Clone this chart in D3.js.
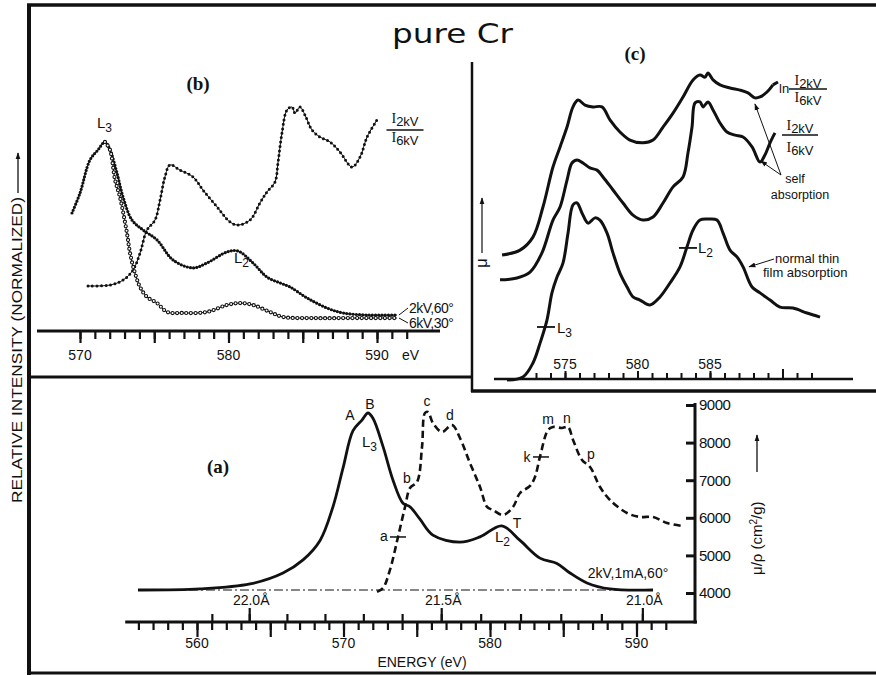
<!DOCTYPE html>
<html>
<head>
<meta charset="utf-8">
<script src="https://cdn.jsdelivr.net/npm/d3@7"></script>
<style>
  body { margin: 0; background: #fff; }
  text { font-family: "Liberation Sans", Arial, sans-serif; fill: #111; }
  .serif { font-family: "Liberation Serif", "DejaVu Serif", serif; font-weight: bold; }
</style>
</head>
<body>
<script>
// ---- panel (a): emission (solid, relative) and absorption (dashed, mu/rho) ----
const aSolidE = [555.97, 560.2, 563.62, 565.87, 567.24, 568.4, 569.28, 569.97, 570.65, 571.26, 571.67, 572.01, 572.7, 573.38, 574.06, 574.54, 575.22, 576.1, 577.95, 579.32, 580.8, 582.05, 583.41, 584.57, 585.46, 586.62, 588.19, 591.13];
const aSolidI = [0, 0.006, 0.034, 0.096, 0.17, 0.28, 0.47, 0.69, 0.9, 0.96, 1.0, 0.97, 0.81, 0.62, 0.49, 0.47, 0.4, 0.31, 0.27, 0.3, 0.362, 0.28, 0.18, 0.15, 0.096, 0.04, 0.006, 0];
const aDashE = [572.29, 572.7, 573.17, 573.72, 574.2, 574.54, 575.02, 575.36, 575.56, 575.77, 576.1, 576.72, 577.41, 577.95, 578.63, 579.32, 579.8, 580.2, 580.89, 581.57, 582.05, 582.73, 583.07, 583.41, 583.96, 584.3, 584.91, 585.32, 585.67, 586.28, 586.83, 587.51, 588.19, 589.35, 590.24, 591.13, 592.08, 593.17];
const aDashMu = [4030, 4133, 4612, 5490, 6288, 6793, 6953, 7884, 8788, 8815, 8522, 8283, 8469, 8123, 7458, 6820, 6288, 6208, 6075, 6288, 6660, 6846, 7086, 7618, 8336, 8416, 8389, 8416, 8070, 7538, 7352, 6820, 6474, 6128, 6022, 6022, 5862, 5782];
const aEvLabels = [560, 570, 580, 590];
const aWaveTicks = [22.1, 22.0, 21.9, 21.8, 21.7, 21.6, 21.5, 21.4, 21.3, 21.2, 21.1, 21.0];
const aWaveLabels = [22.0, 21.5, 21.0];
const aMuTicks = [4000, 5000, 6000, 7000, 8000, 9000];

// ---- panel (b): 2kV/60deg, 6kV/30deg and their ratio ----
const b2kvE = [569.46, 570.0, 570.67, 571.21, 571.68, 572.02, 572.49, 572.9, 573.5, 574.24, 575.19, 576.26, 577.61, 578.55, 579.9, 580.64, 581.65, 582.59, 583.47, 584.14, 585.29, 586.63, 587.71, 589.33, 591.35];
const b2kvI = [0.621, 0.726, 0.9, 0.953, 0.995, 0.953, 0.832, 0.705, 0.584, 0.532, 0.479, 0.374, 0.332, 0.358, 0.416, 0.421, 0.358, 0.284, 0.253, 0.232, 0.174, 0.121, 0.095, 0.084, 0.084];
const b6kvE = [571.68, 572.02, 572.36, 572.69, 573.16, 573.37, 573.7, 574.04, 574.51, 575.19, 575.86, 576.94, 578.55, 579.9, 580.77, 581.65, 582.79, 583.67, 585.96, 588.18, 591.35];
const b6kvI = [0.995, 0.953, 0.795, 0.705, 0.516, 0.41, 0.305, 0.232, 0.179, 0.147, 0.1, 0.095, 0.1, 0.137, 0.147, 0.137, 0.1, 0.074, 0.068, 0.068, 0.068];
const bRatioE = [570.54, 572.02, 572.9, 573.57, 574.04, 574.51, 575.05, 575.39, 575.72, 576.06, 576.73, 577.61, 578.28, 579.23, 580.1, 580.64, 581.45, 582.12, 582.59, 583.13, 583.33, 583.6, 583.94, 584.28, 584.48, 584.81, 585.15, 585.62, 586.16, 586.84, 587.51, 588.32, 588.86, 589.33, 590.0];
const bRatio = [0.237, 0.242, 0.268, 0.321, 0.41, 0.532, 0.584, 0.689, 0.811, 0.874, 0.847, 0.811, 0.742, 0.653, 0.574, 0.558, 0.584, 0.674, 0.732, 0.784, 0.884, 1.042, 1.163, 1.179, 1.147, 1.179, 1.137, 1.058, 1.021, 0.995, 0.942, 0.863, 0.916, 1.021, 1.111];
const bEvLabels = [570, 580, 590];

// ---- panel (c): absorption spectra ----
const cThinE = [571.0, 572.1, 572.79, 573.28, 573.76, 574.1, 574.45, 574.86, 575.21, 575.55, 575.83, 576.17, 576.59, 577.07, 577.41, 577.9, 578.31, 578.79, 579.28, 579.69, 580.17, 580.86, 581.55, 582.24, 582.93, 583.41, 583.83, 584.31, 584.86, 585.48, 585.9, 586.38, 586.86, 587.28, 587.9, 588.45, 589.14, 589.83, 590.72, 591.69, 592.59];
const cThin = [0, 0.01, 0.055, 0.119, 0.194, 0.281, 0.332, 0.377, 0.474, 0.565, 0.571, 0.539, 0.506, 0.523, 0.516, 0.474, 0.41, 0.345, 0.3, 0.268, 0.258, 0.242, 0.268, 0.313, 0.365, 0.429, 0.484, 0.516, 0.519, 0.516, 0.474, 0.419, 0.397, 0.365, 0.3, 0.281, 0.258, 0.235, 0.232, 0.216, 0.203];
const cRatioE = [570.52, 571.69, 572.59, 573.41, 574.17, 574.66, 575.14, 575.48, 575.83, 576.24, 576.72, 577.21, 577.62, 578.31, 579.0, 579.69, 580.38, 581.07, 581.76, 582.45, 583.14, 583.48, 583.76, 583.97, 584.31, 584.52, 584.86, 585.21, 585.69, 586.17, 586.72, 587.28, 587.9, 588.45, 588.79, 589.14, 589.48];
const cRatio = [0.323, 0.329, 0.348, 0.41, 0.516, 0.558, 0.645, 0.7, 0.71, 0.7, 0.684, 0.677, 0.655, 0.613, 0.571, 0.532, 0.516, 0.526, 0.571, 0.623, 0.655, 0.732, 0.816, 0.894, 0.897, 0.881, 0.897, 0.871, 0.829, 0.8, 0.79, 0.784, 0.752, 0.703, 0.726, 0.765, 0.797];
const cLnE = [570.66, 571.9, 572.79, 573.48, 574.17, 574.66, 575.14, 575.55, 575.9, 576.38, 576.93, 577.55, 578.1, 578.79, 579.48, 580.38, 581.07, 581.76, 582.45, 583.14, 583.83, 584.31, 584.66, 584.86, 585.21, 585.69, 586.38, 587.07, 587.62, 588.1, 588.45, 588.93, 589.34];
const cLn = [0.403, 0.419, 0.461, 0.558, 0.687, 0.752, 0.816, 0.881, 0.903, 0.887, 0.881, 0.881, 0.839, 0.8, 0.774, 0.765, 0.774, 0.816, 0.861, 0.913, 0.968, 0.984, 0.977, 0.99, 0.968, 0.952, 0.942, 0.935, 0.926, 0.91, 0.913, 0.929, 0.952];
const cEvLabels = [575, 580, 585];

const HC = 12398.4; // eV * Angstrom
const zip = (xs, ys) => xs.map((x, i) => [x, ys[i]]);

const svg = d3.select('body').append('svg').attr('width', 876).attr('height', 675);
svg.append('defs').append('marker')
    .attr('id', 'arr').attr('viewBox', '0 0 10 10')
    .attr('refX', 9).attr('refY', 5)
    .attr('markerWidth', 7).attr('markerHeight', 7)
    .attr('markerUnits', 'userSpaceOnUse')
    .attr('orient', 'auto')
    .append('path').attr('d', 'M0,1.5L10,5L0,8.5z').attr('fill', '#111');

// frame
const frame = [
    [27, 5, 876, 5, 3.5], [29, 4, 29, 675, 4], [27, 673, 876, 673, 3],
    [28, 377, 473, 377, 3], [472, 62, 472, 392, 2.5], [471, 391, 876, 391, 3.5]
];
svg.selectAll('.frame').data(frame).enter().append('line')
    .attr('x1', d => d[0]).attr('y1', d => d[1]).attr('x2', d => d[2]).attr('y2', d => d[3])
    .attr('stroke', '#111').attr('stroke-width', d => d[4]);

svg.append('text').attr('x', 392).attr('y', 43)
    .attr('textLength', 121).attr('lengthAdjust', 'spacingAndGlyphs')
    .style('font-family', '"DejaVu Sans", sans-serif').style('font-size', '27px')
    .text('pure Cr');

// left label
svg.append('text').attr('transform', 'translate(22,503) rotate(-90)')
    .attr('textLength', 306).attr('lengthAdjust', 'spacingAndGlyphs')
    .style('font-size', '14px').text('RELATIVE INTENSITY (NORMALIZED)');
svg.append('line').attr('x1', 18).attr('y1', 193).attr('x2', 18).attr('y2', 153)
    .attr('stroke', '#111').attr('stroke-width', 1.3).attr('marker-end', 'url(#arr)');

function tickAxis(axis, tx, ty, w) {
    const g = svg.append('g').attr('transform', `translate(${tx},${ty})`).call(axis);
    g.select('.domain').remove();
    g.selectAll('text').remove();
    g.selectAll('line').attr('stroke', '#111').attr('stroke-width', w);
    return g;
}
function curve(x, y, pts) {
    return d3.line().x(d => x(d[0])).y(d => y(d[1])).curve(d3.curveCatmullRom.alpha(0.5))(pts);
}

// ================= panel (a) =================
const xa = d3.scaleLinear().domain([560, 590]).range([197, 636.5]);
const ya = d3.scaleLinear().domain([4000, 9000]).range([593, 405]);
const yaRel = d3.scaleLinear().domain([0, 1]).range([590, 413]);
const aAxisY = 622;

svg.append('line').attr('x1', xa(555.1)).attr('x2', 697).attr('y1', aAxisY).attr('y2', aAxisY)
    .attr('stroke', '#111').attr('stroke-width', 3);
tickAxis(d3.axisBottom(xa).tickValues(d3.range(556, 593)).tickSize(8).tickSizeOuter(0), 0, aAxisY, 2.2);
tickAxis(d3.axisBottom(xa).tickValues(d3.range(560, 593, 5)).tickSize(15).tickSizeOuter(0), 0, aAxisY, 2.2);
tickAxis(d3.axisTop(xa).tickValues(aWaveTicks.map(l => HC / l)).tickSize(8).tickSizeOuter(0), 0, aAxisY, 2.2);
tickAxis(d3.axisTop(xa).tickValues(aWaveLabels.map(l => HC / l)).tickSize(14).tickSizeOuter(0), 0, aAxisY, 2.2);
svg.selectAll('.aLab').data(aEvLabels).enter().append('text')
    .attr('x', d => xa(d)).attr('y', 648).attr('text-anchor', 'middle')
    .style('font-size', '14px').text(d => d);
svg.selectAll('.aWave').data(aWaveLabels).enter().append('text')
    .attr('x', d => xa(HC / d) + 2).attr('y', 605).attr('text-anchor', 'middle')
    .style('font-size', '14px').text(d => d.toFixed(1) + 'Å');
svg.append('text').attr('x', 422).attr('y', 667).attr('text-anchor', 'middle')
    .style('font-size', '14px').text('ENERGY (eV)');

// right axis
svg.append('line').attr('x1', 695).attr('x2', 695).attr('y1', aAxisY + 1.5).attr('y2', 403)
    .attr('stroke', '#111').attr('stroke-width', 3);
const rAx = svg.append('g').attr('transform', 'translate(695,0)')
    .call(d3.axisRight(ya).tickValues(aMuTicks).tickFormat(d3.format('d'))
        .tickSizeInner(-9).tickSizeOuter(0).tickPadding(4));
rAx.select('.domain').remove();
rAx.selectAll('line').attr('stroke', '#111').attr('stroke-width', 3);
rAx.selectAll('text').style('font-size', '15px').style('font-family', '"Liberation Sans", Arial, sans-serif')
    .attr('fill', '#111').attr('letter-spacing', '-0.5');
const muLab = svg.append('text').attr('transform', 'translate(762,575) rotate(-90)').style('font-size', '15px');
muLab.append('tspan').text('μ/ρ (cm');
muLab.append('tspan').attr('dy', -5).style('font-size', '10px').text('2');
muLab.append('tspan').attr('dy', 5).text('/g)');
svg.append('line').attr('x1', 757).attr('x2', 757).attr('y1', 472).attr('y2', 435)
    .attr('stroke', '#111').attr('stroke-width', 1.3).attr('marker-end', 'url(#arr)');

// baseline (dash-dot)
svg.append('line').attr('x1', xa(d3.min(aSolidE))).attr('x2', xa(d3.max(aSolidE)))
    .attr('y1', yaRel(0)).attr('y2', yaRel(0))
    .attr('stroke', '#111').attr('stroke-width', 1.2).attr('stroke-dasharray', '9 3 2 3');

svg.append('path').attr('d', curve(xa, yaRel, zip(aSolidE, aSolidI)))
    .attr('fill', 'none').attr('stroke', '#111').attr('stroke-width', 2.8);
svg.append('path').attr('d', curve(xa, ya, zip(aDashE, aDashMu)))
    .attr('fill', 'none').attr('stroke', '#111').attr('stroke-width', 2.6).attr('stroke-dasharray', '7 4');

// tick marks on the absorption curve
[[573.72, 5490], [583.48, 7618]].forEach(d => {
    svg.append('line').attr('x1', xa(d[0]) - 8).attr('x2', xa(d[0]) + 8)
        .attr('y1', ya(d[1])).attr('y2', ya(d[1])).attr('stroke', '#111').attr('stroke-width', 1.5);
});

const aNotes = [['A', 350, 420], ['B', 370, 409], ['c', 427, 406], ['d', 450, 420], ['b', 407, 483],
    ['a', 384, 541], ['k', 527, 462], ['m', 548, 424], ['n', 567, 423], ['p', 591, 459], ['T', 517, 528]];
svg.selectAll('.aNote').data(aNotes).enter().append('text')
    .attr('x', d => d[1]).attr('y', d => d[2]).attr('text-anchor', 'middle')
    .style('font-size', '14px').text(d => d[0]);

function sub(x, y, main, s, size) {
    const t = svg.append('text').attr('x', x).attr('y', y).style('font-size', size + 'px');
    t.append('tspan').text(main);
    t.append('tspan').attr('dy', 4).style('font-size', (size - 3) + 'px').text(s);
    return t;
}
sub(362, 447, 'L', '3', 15);
sub(495, 542, 'L', '2', 15);
svg.append('text').attr('x', 628).attr('y', 578).attr('text-anchor', 'middle')
    .style('font-size', '14px').text('2kV,1mA,60°');
svg.append('text').attr('class', 'serif').attr('x', 218).attr('y', 473).attr('text-anchor', 'middle')
    .style('font-size', '19px').text('(a)');

// ================= panel (b) =================
const xb = d3.scaleLinear().domain([570, 590]).range([80, 377]);
const yb = d3.scaleLinear().domain([0, 1]).range([331, 141]);
svg.append('line').attr('x1', 37).attr('x2', 440).attr('y1', 331).attr('y2', 331)
    .attr('stroke', '#111').attr('stroke-width', 3);
tickAxis(d3.axisBottom(xb).tickValues(d3.range(570, 593)).tickSize(8).tickSizeOuter(0), 0, 331, 2.2);
tickAxis(d3.axisBottom(xb).tickValues(d3.range(570, 593, 5)).tickSize(12).tickSizeOuter(0), 0, 331, 2.2);
svg.selectAll('.bLab').data(bEvLabels).enter().append('text')
    .attr('x', d => xb(d)).attr('y', 360).attr('text-anchor', 'middle')
    .style('font-size', '14px').text(d => d);
svg.append('text').attr('x', 402).attr('y', 360).style('font-size', '14px').text('eV');

function dotted(x, y, pts, dotW, gap) {
    const d = curve(x, y, pts);
    svg.append('path').attr('d', d).attr('fill', 'none').attr('stroke', '#111').attr('stroke-width', 1);
    svg.append('path').attr('d', d).attr('fill', 'none').attr('stroke', '#111')
        .attr('stroke-width', dotW).attr('stroke-linecap', 'round').attr('stroke-dasharray', `0 ${gap}`);
    return d;
}
dotted(xb, yb, zip(bRatioE, bRatio), 3, 4.5);
dotted(xb, yb, zip(b2kvE, b2kvI), 3.2, 3.2);
const d6 = dotted(xb, yb, zip(b6kvE, b6kvI), 4.2, 4.6);
svg.append('path').attr('d', d6).attr('fill', 'none').attr('stroke', '#fff')
    .attr('stroke-width', 2).attr('stroke-linecap', 'round').attr('stroke-dasharray', '0 4.6');

sub(97, 128, 'L', '3', 15);
sub(234, 263, 'L', '2', 15);
svg.append('text').attr('class', 'serif').attr('x', 198).attr('y', 90).attr('text-anchor', 'middle')
    .style('font-size', '19px').text('(b)');

function frac(cx, yNum, yLine, yDen, w) {
    [[yNum, '2kV'], [yDen, '6kV']].forEach(p => {
        const t = svg.append('text').attr('x', cx).attr('y', p[0]).attr('text-anchor', 'middle').style('font-size', '14px');
        t.append('tspan').style('font-family', '"Liberation Serif", serif').text('I');
        t.append('tspan').attr('dy', 3).style('font-size', '13px').text(p[1]);
    });
    svg.append('line').attr('x1', cx - w / 2).attr('x2', cx + w / 2).attr('y1', yLine).attr('y2', yLine)
        .attr('stroke', '#111').attr('stroke-width', 1.3);
}
frac(405, 123, 130, 142, 37);
svg.append('text').attr('x', 409).attr('y', 313).style('font-size', '14px').attr('letter-spacing', '-0.5').text('2kV,60°');
svg.append('text').attr('x', 409).attr('y', 328).style('font-size', '14px').attr('letter-spacing', '-0.5').text('6kV,30°');
svg.append('line').attr('x1', 399).attr('y1', 315).attr('x2', 408).attr('y2', 308).attr('stroke', '#111');
svg.append('line').attr('x1', 399).attr('y1', 318).attr('x2', 408).attr('y2', 323).attr('stroke', '#111');

// ================= panel (c) =================
const xc = d3.scaleLinear().domain([575, 585]).range([565, 710]);
const yc = d3.scaleLinear().domain([0, 1]).range([380, 70]);
svg.append('line').attr('x1', 494).attr('x2', 853).attr('y1', 379).attr('y2', 379)
    .attr('stroke', '#111').attr('stroke-width', 2.6);
tickAxis(d3.axisTop(xc).tickValues(d3.range(573, 593)).tickSize(6).tickSizeOuter(0), 0, 379, 2);
tickAxis(d3.axisTop(xc).tickValues(cEvLabels).tickSize(8).tickSizeOuter(0), 0, 379, 2);
tickAxis(d3.axisTop(xc).tickValues([590]).tickSize(10).tickSizeOuter(0), 0, 379, 2);
svg.selectAll('.cLab').data(cEvLabels).enter().append('text')
    .attr('x', d => xc(d)).attr('y', 369).attr('text-anchor', 'middle')
    .style('font-size', '14px').text(d => d);

[cThin, cRatio, cLn].forEach((vals, i) => {
    const es = [cThinE, cRatioE, cLnE][i];
    svg.append('path').attr('d', curve(xc, yc, zip(es, vals)))
        .attr('fill', 'none').attr('stroke', '#111').attr('stroke-width', 3);
});

// L3 / L2 markers on the thin film curve
[[573.69, 0.171], [583.48, 0.426]].forEach(d => {
    svg.append('line').attr('x1', xc(d[0]) - 9).attr('x2', xc(d[0]) + 9)
        .attr('y1', yc(d[1])).attr('y2', yc(d[1])).attr('stroke', '#111').attr('stroke-width', 1.8);
});
sub(557, 333, 'L', '3', 15);
sub(698, 253, 'L', '2', 15);

svg.append('text').attr('class', 'serif').attr('x', 635).attr('y', 60).attr('text-anchor', 'middle')
    .style('font-size', '19px').text('(c)');

// mu arrow
svg.append('text').attr('transform', 'translate(487,268) rotate(-90)').style('font-size', '17px').text('μ');
svg.append('line').attr('x1', 482).attr('x2', 482).attr('y1', 253).attr('y2', 198)
    .attr('stroke', '#111').attr('stroke-width', 1.2).attr('marker-end', 'url(#arr)');

// ln fraction
svg.append('line').attr('x1', xc(589.34)).attr('y1', yc(0.952)).attr('x2', 778).attr('y2', 82)
    .attr('stroke', '#111').attr('stroke-width', 3);
svg.append('text').attr('x', 779).attr('y', 93).style('font-size', '13px').text('ln');
frac(808, 85, 89, 102, 38);
frac(800, 130, 135, 152, 36);

svg.append('text').attr('x', 795).attr('y', 183).attr('text-anchor', 'middle').style('font-size', '12.5px').text('self');
svg.append('text').attr('x', 800).attr('y', 199).attr('text-anchor', 'middle').style('font-size', '12.5px').text('absorption');
svg.append('line').attr('x1', 781).attr('y1', 175).attr('x2', xc(588.1)).attr('y2', yc(0.9) + 3)
    .attr('stroke', '#111').attr('stroke-width', 1).attr('marker-end', 'url(#arr)');
svg.append('line').attr('x1', 781).attr('y1', 175).attr('x2', xc(588.5)).attr('y2', yc(0.7) - 2)
    .attr('stroke', '#111').attr('stroke-width', 1).attr('marker-end', 'url(#arr)');

svg.append('text').attr('x', 775).attr('y', 263).style('font-size', '13px').text('normal thin');
svg.append('text').attr('x', 763).attr('y', 277).style('font-size', '13px').text('film absorption');
svg.append('line').attr('x1', 774).attr('y1', 259).attr('x2', xc(587.28) + 6).attr('y2', yc(0.365))
    .attr('stroke', '#111').attr('stroke-width', 1).attr('marker-end', 'url(#arr)');
</script>
</body>
</html>
